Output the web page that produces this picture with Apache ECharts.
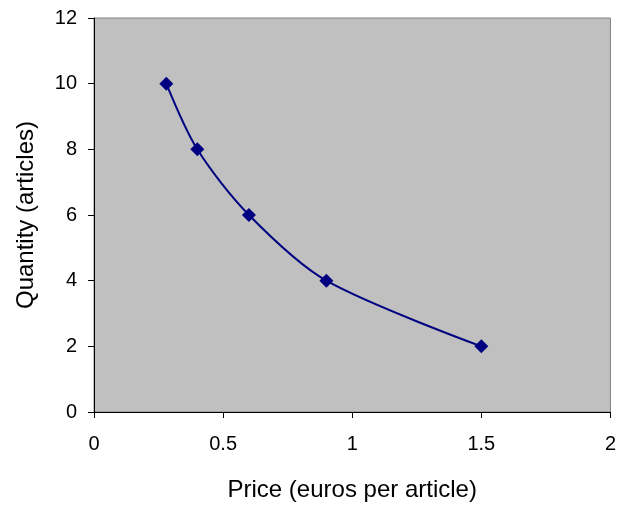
<!DOCTYPE html>
<html>
<head>
<meta charset="utf-8">
<script src="https://cdn.jsdelivr.net/npm/echarts@6/dist/echarts.min.js"></script>
<style>html,body{margin:0;padding:0;background:#fff}#c{width:619px;height:507px}</style>
</head>
<body>
<div id="c"></div>
<script>
var prices = [0.28, 0.4, 0.6, 0.9, 1.5];
var quantities = [10, 8, 6, 4, 2];
var xTitle = 'Price (euros per article)';
var yTitle = 'Quantity (articles)';

var font = '"Liberation Sans", Arial, sans-serif';
var chart = echarts.init(document.getElementById('c'), null, {renderer: 'canvas'});
chart.setOption({
  animation: false,
  backgroundColor: '#ffffff',
  grid: {left: 94, top: 18, right: 7, bottom: 94, show: true, backgroundColor: '#C0C0C0', borderColor: '#808080', borderWidth: 1},
  xAxis: {
    type: 'value', min: 0, max: 2, interval: 0.5,
    name: xTitle, nameLocation: 'middle', nameGap: 66,
    nameTextStyle: {fontFamily: font, fontSize: 24, color: '#000'},
    axisLine: {show: true, lineStyle: {color: '#000', width: 1}},
    axisTick: {show: true, inside: false, length: 6, lineStyle: {color: '#000'}},
    axisLabel: {fontFamily: font, fontSize: 20, color: '#000', margin: 22},
    splitLine: {show: false}
  },
  yAxis: {
    type: 'value', min: 0, max: 12, interval: 2,
    name: yTitle, nameLocation: 'middle', nameGap: 56, nameRotate: 90,
    nameTextStyle: {fontFamily: font, fontSize: 24, color: '#000', padding: [0, 0, 0, 0]},
    axisLine: {show: true, lineStyle: {color: '#000', width: 1}},
    axisTick: {show: true, inside: false, length: 6, lineStyle: {color: '#000'}},
    axisLabel: {fontFamily: font, fontSize: 20, color: '#000', margin: 17},
    splitLine: {show: false}
  },
  series: [{
    type: 'line',
    data: prices.map(function (p, i) { return [p, quantities[i]]; }),
    smooth: 0.3,
    symbol: 'diamond', symbolSize: 14,
    itemStyle: {color: '#000080'},
    lineStyle: {color: '#000080', width: 2}
  }]
});
</script>
</body>
</html>
